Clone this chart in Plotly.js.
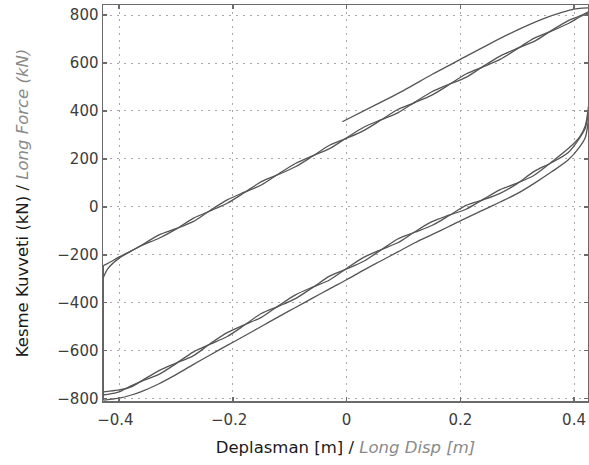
<!DOCTYPE html>
<html>
<head>
<meta charset="utf-8">
<script src="https://cdn.plot.ly/plotly-3.0.1.min.js"></script>
<style>
  html, body { margin: 0; padding: 0; background: #ffffff; }
  #chart { width: 589px; height: 465px; }
</style>
</head>
<body>
<div id="chart"></div>
<script>
// Shear force vs. displacement, bearing hysteresis record

// first loading path
const initX = [-0.0075, 0.05, 0.10, 0.15, 0.20, 0.25, 0.30, 0.35, 0.38, 0.40, 0.415, 0.426];
const initY = [355, 424, 485, 552, 615, 678, 737, 788, 812, 825, 829, 830];

// loading branches (left to right), two cycles
const upX = [-0.428, -0.42, -0.40, -0.38, -0.36, -0.33, -0.30, -0.27, -0.24, -0.21, -0.18, -0.15,
             -0.12, -0.09, -0.06, -0.03, 0, 0.03, 0.06, 0.09, 0.12, 0.15, 0.18, 0.21,
             0.24, 0.27, 0.30, 0.33, 0.36, 0.39, 0.41, 0.426];
const upA = [-296, -258, -214, -186, -159, -117, -91, -62, -15, 29, 61, 91,
             137, 181, 213, 243, 288, 332, 363, 392, 437, 480, 511, 540,
             586, 629, 661, 690, 735, 777, 796, 815];
const upB = [-245, -236, -209, -185, -161, -131, -93, -48, -17, 15, 59, 105,
             135, 167, 211, 257, 286, 318, 361, 406, 435, 466, 509, 554,
             584, 615, 659, 704, 733, 765, 792, 810];

// unloading branches (right to left): first unloading and two cycles
const lowX = [0.426, 0.42, 0.41, 0.39, 0.36, 0.33, 0.30, 0.27, 0.24, 0.21, 0.18, 0.15,
              0.12, 0.09, 0.06, 0.03, 0, -0.03, -0.06, -0.09, -0.12, -0.15, -0.18, -0.21,
              -0.24, -0.27, -0.30, -0.33, -0.36, -0.38, -0.40, -0.42, -0.428];
const lowC = [380, 290, 250, 196, 145, 98, 55, 20, -14, -47, -82, -116,
              -150, -188, -226, -264, -304, -342, -381, -420, -459, -499, -539, -578,
              -618, -658, -700, -738, -770, -786, -798, -804, -806];
const lowA = [430, 340, 292, 243, 186, 132, 99, 72, 31, -10, -35, -62,
              -104, -150, -179, -211, -257, -305, -335, -367, -413, -461, -492, -525,
              -571, -622, -652, -683, -725, -752, -764, -770, -772];
const lowB = [410, 330, 288, 227, 184, 148, 97, 56, 29, 6, -37, -78,
              -106, -134, -181, -227, -259, -289, -337, -383, -415, -445, -494, -541,
              -573, -606, -654, -699, -727, -748, -772, -782, -784];

// force reversals at the displacement limits
const revLeftX = [-0.428, -0.428];
const revLeftY = [-806, -245];
const revRightX = [0.426, 0.426];
const revRightY = [330, 830];

const xTickVals = [-0.4, -0.2, 0, 0.2, 0.4];
const xTickText = ['\u22120.4\u2002', '\u22120.2\u2002', '0', '0.2', '0.4'];
const yTickVals = [-800, -600, -400, -200, 0, 200, 400, 600, 800];
const yTickText = ['\u2212800', '\u2212600', '\u2212400', '\u2212200', '0', '200', '400', '600', '800'];

const lineColor = '#555555';
const curve = (x, y, name) => ({
  x: x, y: y, name: name, type: 'scatter', mode: 'lines',
  line: { color: lineColor, width: 1.3, shape: 'spline', smoothing: 0.8 },
  hoverinfo: 'x+y'
});
const straight = (x, y, name) => ({
  x: x, y: y, name: name, type: 'scatter', mode: 'lines',
  line: { color: lineColor, width: 1.3 },
  hoverinfo: 'x+y'
});

const data = [
  curve(initX, initY, 'first loading'),
  straight(revRightX, revRightY, 'reversal +'),
  curve(lowX, lowC, 'unloading 1'),
  straight(revLeftX, revLeftY, 'reversal −'),
  curve(upX, upA, 'loading 2'),
  curve(lowX, lowA, 'unloading 2'),
  curve(upX, upB, 'loading 3'),
  curve(lowX, lowB, 'unloading 3')
];

const axisCommon = {
  showgrid: true,
  gridcolor: '#a8a8a8',
  gridwidth: 1,
  griddash: '2px,5px',
  zeroline: false,
  showline: true,
  mirror: 'ticks',
  linecolor: '#6a6a6a',
  linewidth: 1.5,
  ticks: 'inside',
  ticklen: 4,
  tickwidth: 1.5,
  tickcolor: '#6a6a6a',
  tickfont: { family: 'DejaVu Sans', size: 15, color: '#3c3c3c' },
  tickmode: 'array'
};

const titleFont = { family: 'DejaVu Sans', size: 16.5, color: '#1a1a1a' };

const layout = {
  width: 589,
  height: 465,
  margin: { l: 103, r: 1, t: 5, b: 64 },
  paper_bgcolor: '#ffffff',
  plot_bgcolor: '#ffffff',
  showlegend: false,
  xaxis: Object.assign({}, axisCommon, {
    range: [-0.4285, 0.4246],
    tickvals: xTickVals,
    ticktext: xTickText,
    ticklabelstandoff: 4,
    title: {
      text: '\u2003Deplasman [m] / <i><span style="color:#8a8a8a">Long Disp [m]</span></i>',
      font: titleFont,
      standoff: 14
    }
  }),
  yaxis: Object.assign({}, axisCommon, {
    range: [-810, 842],
    tickvals: yTickVals,
    ticktext: yTickText,
    title: {
      text: 'Kesme Kuvveti (kN) / <i><span style="color:#8a8a8a">Long Force (kN)</span></i>\u2003',
      font: titleFont,
      standoff: 24
    }
  })
};

Plotly.newPlot('chart', data, layout, { displayModeBar: false, staticPlot: true });
</script>
</body>
</html>
